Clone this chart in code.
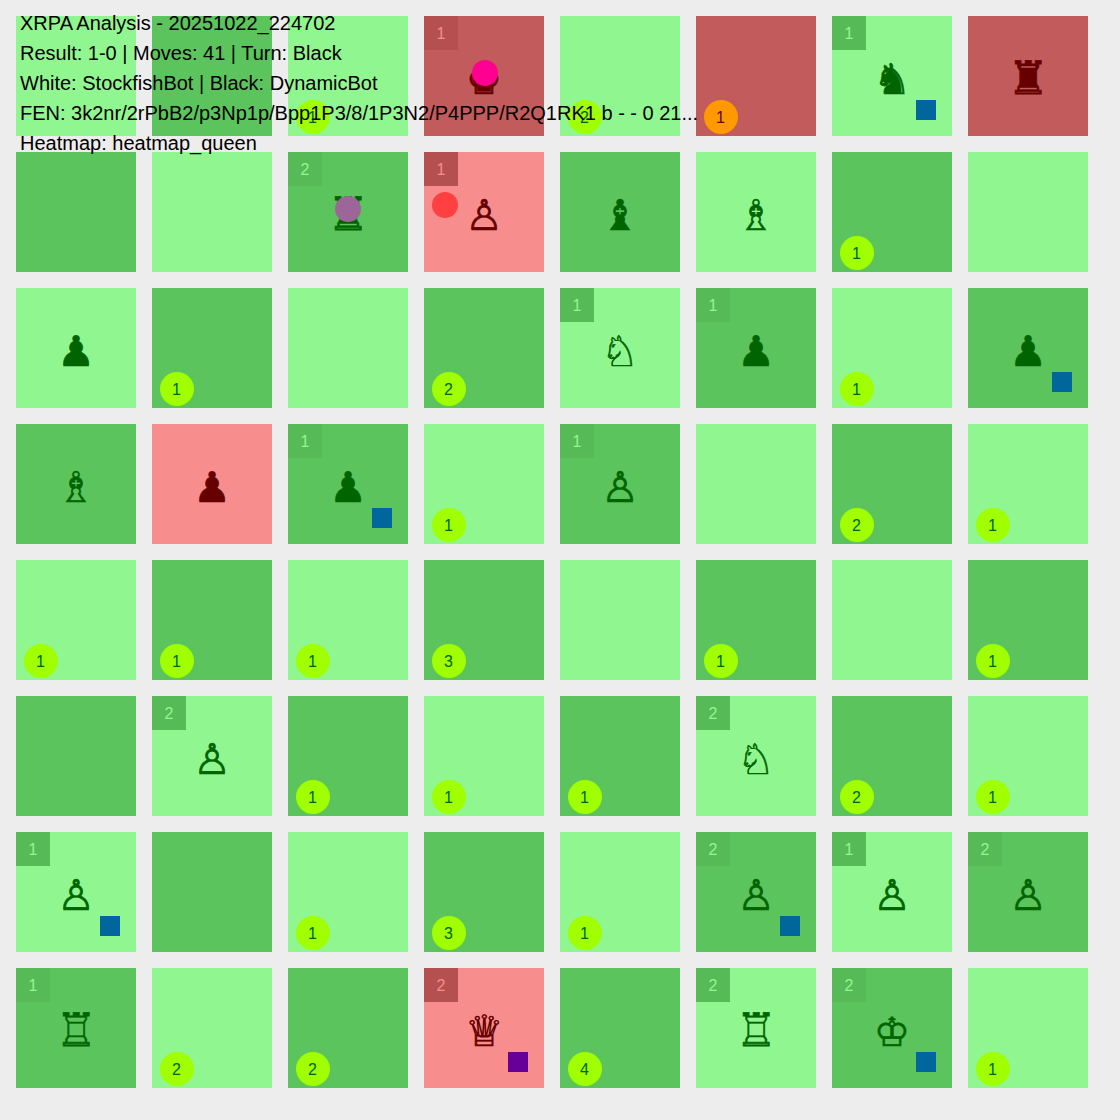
<!DOCTYPE html>
<html>
<head>
<meta charset="utf-8">
<script src="https://cdn.jsdelivr.net/npm/d3@7"></script>
<style>
  html, body { margin: 0; padding: 0; background: #ededed; }
  svg { display: block; }
</style>
</head>
<body>
<div id="chart"></div>
<script>
const headerLines = [
  'XRPA Analysis - 20251022_224702',
  'Result: 1-0 | Moves: 41 | Turn: Black',
  'White: StockfishBot | Black: DynamicBot',
  'FEN: 3k2nr/2rPbB2/p3Np1p/Bpp1P3/8/1P3N2/P4PPP/R2Q1RK1 b - - 0 21...',
  'Heatmap: heatmap_queen'
];

// board rows, top to bottom
const pieceRows = [
  '...k..nr',
  '..rPbB..',
  'p...Np.p',
  'Bpp.P...',
  '........',
  '.P...N..',
  'P....PPP',
  'R..Q.RK.'
];

// queen heatmap counts, bottom-left discs
const heatRows = [
  [0, 0, 1, 0, 2, 1, 0, 0],
  [0, 0, 0, 0, 0, 0, 1, 0],
  [0, 1, 0, 2, 0, 0, 1, 0],
  [0, 0, 0, 1, 0, 0, 2, 1],
  [1, 1, 1, 3, 0, 1, 0, 1],
  [0, 0, 1, 1, 1, 0, 2, 1],
  [0, 0, 1, 3, 1, 0, 0, 0],
  [0, 2, 2, 0, 4, 0, 0, 1]
];

// defender counts, top-left badges
const badgeRows = [
  [0, 0, 0, 1, 0, 0, 1, 0],
  [0, 0, 2, 1, 0, 0, 0, 0],
  [0, 0, 0, 0, 1, 1, 0, 0],
  [0, 0, 1, 0, 1, 0, 0, 0],
  [0, 0, 0, 0, 0, 0, 0, 0],
  [0, 2, 0, 0, 0, 2, 0, 0],
  [1, 0, 0, 0, 0, 2, 1, 2],
  [1, 0, 0, 2, 0, 2, 2, 0]
];

// [row, col]
const redCells = [[0, 3], [0, 5], [0, 7], [1, 3], [3, 1], [7, 3]];
const orangeDiscs = [[0, 5]];
const blueSquares = [[0, 6], [2, 7], [3, 2], [6, 0], [6, 5], [7, 6]];
const purpleSquares = [[7, 3]];
const pinkDots = [[0, 3]];
const mauveDots = [[1, 2]];
const redDots = [[1, 3]];

const glyphs = {
  K: '\u2654', Q: '\u2655', R: '\u2656', B: '\u2657', N: '\u2658', P: '\u2659',
  k: '\u265A', q: '\u265B', r: '\u265C', b: '\u265D', n: '\u265E', p: '\u265F'
};

// DejaVu pieces differ in proportion, sized per piece to fit the squares
const glyphSize = { k: 40, q: 43, r: 46, b: 42, n: 42, p: 42 };

const size = 1120;
const hasCell = (list, r, c) => list.some((d) => d[0] === r && d[1] === c);

const cells = d3.range(8).flatMap((r) =>
  d3.range(8).map((c) => ({
    r,
    c,
    piece: pieceRows[r][c],
    heat: heatRows[r][c],
    badge: badgeRows[r][c],
    red: hasCell(redCells, r, c),
    dark: (r + c) % 2 === 1
  }))
);

const pos = d3
  .scaleBand()
  .domain(d3.range(8))
  .range([16, 1088])
  .paddingInner(16 / 136)
  .paddingOuter(0);

const cellFill = (d) => {
  if (d.red) return d.dark ? '#c25b5b' : '#f78d8d';
  return d.dark ? '#5cc45c' : '#90f690';
};
const badgeFill = (d) => (d.red ? '#b55050' : '#56bb56');
const badgeText = (d) => (d.red ? '#f78d8d' : '#90f690');
const inkFill = (d) => (d.red ? '#660000' : '#006400');

const svg = d3
  .select('#chart')
  .append('svg')
  .attr('viewBox', `0 0 ${size} ${size}`)
  .attr('width', size)
  .attr('height', size);

const cell = svg
  .selectAll('g.cell')
  .data(cells)
  .join('g')
  .attr('class', 'cell')
  .attr('transform', (d) => `translate(${pos(d.c)}, ${pos(d.r)})`);

cell
  .append('rect')
  .attr('width', pos.bandwidth())
  .attr('height', pos.bandwidth())
  .attr('fill', cellFill);

const badged = cell.filter((d) => d.badge > 0);
badged
  .append('rect')
  .attr('width', 34)
  .attr('height', 34)
  .attr('fill', badgeFill);
badged
  .append('text')
  .attr('x', 17)
  .attr('y', 23)
  .attr('text-anchor', 'middle')
  .attr('font-family', '"Liberation Sans", Arial, sans-serif')
  .attr('font-size', 16)
  .attr('fill', badgeText)
  .text((d) => d.badge);

cell
  .filter((d) => d.piece !== '.')
  .append('text')
  .attr('x', 60)
  .attr('y', 78)
  .attr('text-anchor', 'middle')
  .attr('font-family', '"DejaVu Sans", sans-serif')
  .attr('font-size', (d) => glyphSize[d.piece.toLowerCase()])
  .attr('fill', inkFill)
  .attr('stroke', inkFill)
  .attr('stroke-width', 0.7)
  .text((d) => glyphs[d.piece]);

const heated = cell.filter((d) => d.heat > 0);
heated
  .append('circle')
  .attr('cx', 25)
  .attr('cy', 101)
  .attr('r', 17)
  .attr('fill', (d) => (hasCell(orangeDiscs, d.r, d.c) ? '#ff9900' : '#a0ff00'));
heated
  .append('text')
  .attr('x', 24.5)
  .attr('y', 107)
  .attr('text-anchor', 'middle')
  .attr('font-family', '"Liberation Sans", Arial, sans-serif')
  .attr('font-size', 16)
  .attr('fill', inkFill)
  .text((d) => d.heat);

cell
  .filter((d) => hasCell(blueSquares, d.r, d.c) || hasCell(purpleSquares, d.r, d.c))
  .append('rect')
  .attr('x', 84)
  .attr('y', 84)
  .attr('width', 20)
  .attr('height', 20)
  .attr('fill', (d) => (hasCell(purpleSquares, d.r, d.c) ? '#660099' : '#00669c'));

cell
  .filter((d) => hasCell(pinkDots, d.r, d.c))
  .append('circle')
  .attr('cx', 61)
  .attr('cy', 57)
  .attr('r', 13)
  .attr('fill', '#ff0090');

cell
  .filter((d) => hasCell(mauveDots, d.r, d.c))
  .append('circle')
  .attr('cx', 60)
  .attr('cy', 57)
  .attr('r', 13)
  .attr('fill', '#9c6699');

cell
  .filter((d) => hasCell(redDots, d.r, d.c))
  .append('circle')
  .attr('cx', 21)
  .attr('cy', 53)
  .attr('r', 13)
  .attr('fill', '#ff4040');

svg
  .selectAll('text.header')
  .data(headerLines)
  .join('text')
  .attr('class', 'header')
  .attr('x', 20)
  .attr('y', (d, i) => 30 + i * 30)
  .attr('font-family', '"Liberation Sans", Arial, sans-serif')
  .attr('font-size', 20)
  .attr('fill', '#000')
  .text((d) => d);
</script>
</body>
</html>
